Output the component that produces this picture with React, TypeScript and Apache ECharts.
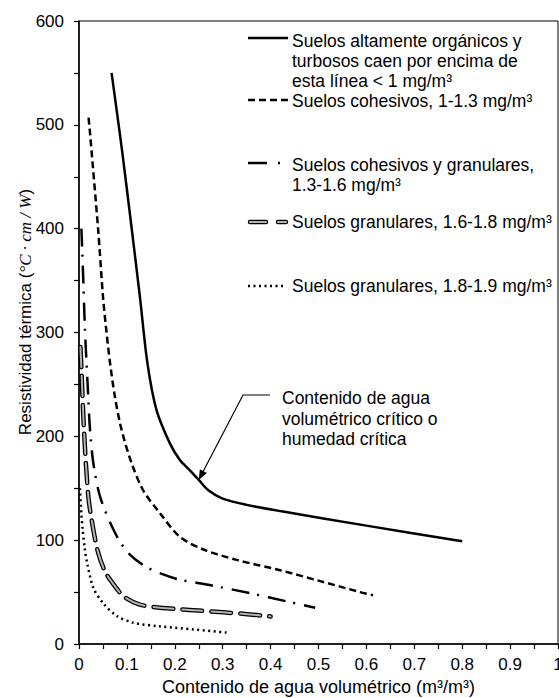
import React, { useEffect, useRef } from 'react';
import * as echarts from 'echarts';

const FONT = '"Liberation Sans", Arial, Helvetica, sans-serif';

// Axes
const xMin = 0;
const xMax = 1;
const xTickStep = 0.05;
const yMin = 0;
const yMax = 600;
const yTickStep = 50;

const xAxisTitle = 'Contenido de agua volumétrico (m³/m³)';
const yAxisTitleMain = 'Resistividad térmica (';
const yAxisTitleUnit = '°C · cm / W';

// Series names
const seriesNames = [
  'Suelos altamente orgánicos y turbosos caen por encima de esta línea < 1 mg/m³',
  'Suelos cohesivos, 1-1.3 mg/m³',
  'Suelos cohesivos y granulares, 1.3-1.6 mg/m³',
  'Suelos granulares, 1.6-1.8 mg/m³',
  'Suelos granulares, 1.8-1.9 mg/m³',
];

// Legend label lines
const legendLabels = [
  ['Suelos altamente orgánicos y', 'turbosos caen por encima de', 'esta línea < 1 mg/m³'],
  ['Suelos cohesivos, 1-1.3 mg/m³'],
  ['Suelos cohesivos y granulares,', '1.3-1.6 mg/m³'],
  ['Suelos granulares, 1.6-1.8 mg/m³'],
  ['Suelos granulares, 1.8-1.9 mg/m³'],
];

// Data (water content m3/m3, thermal resistivity)
const organicX = [0.068, 0.09, 0.11, 0.127, 0.143, 0.162, 0.19, 0.211, 0.23, 0.25, 0.27, 0.3, 0.35, 0.42, 0.6, 0.8];
const organicY = [550, 475, 400, 335, 270, 225, 193, 177, 168, 158, 148, 140, 134, 128, 114, 99];

const cohesiveX = [0.02, 0.023, 0.04, 0.05, 0.057, 0.065, 0.075, 0.089, 0.11, 0.134, 0.169, 0.211, 0.26, 0.329, 0.42, 0.5, 0.587, 0.614];
const cohesiveY = [507, 492, 399, 335, 302, 270, 238, 206, 174, 148, 126, 103, 91, 81, 71, 61, 50, 47];

const mixedX = [0.005, 0.009, 0.0125, 0.018, 0.023, 0.03, 0.044, 0.072, 0.1, 0.134, 0.17, 0.21, 0.27, 0.357, 0.434, 0.493];
const mixedY = [400, 350, 302, 250, 206, 174, 142, 110, 89, 76, 68, 62, 57, 49, 41, 35];

const granular1X = [0.003, 0.005, 0.0104, 0.0195, 0.03, 0.04, 0.054, 0.068, 0.093, 0.127, 0.169, 0.239, 0.301, 0.357, 0.4];
const granular1Y = [286, 265, 206, 142, 110, 88, 70, 60, 46, 38, 35, 32.5, 30.5, 28.5, 26.5];

const granular2X = [0.002, 0.005, 0.0077, 0.012, 0.017, 0.03, 0.051, 0.079, 0.113, 0.169, 0.239, 0.308];
const granular2Y = [150, 125, 110, 92, 78, 54, 39, 27, 20.5, 17, 14, 11];

// Annotation
const criticalPoint = [0.25, 158];
const annotationLines = ['Contenido de agua', 'volumétrico crítico o', 'humedad crítica'];

const zip = (xs: number[], ys: number[]) => xs.map((x, i) => [x, ys[i]]);

export default function App() {
  const ref = useRef<HTMLDivElement>(null);

  useEffect(() => {
    const chart = echarts.init(ref.current!, null, { renderer: 'svg' });

    const baseLine = (name: string, data: number[][], lineStyle: any, z = 2) => ({
      name,
      type: 'line',
      data,
      symbol: 'none',
      showSymbol: false,
      smooth: 0.3,
      silent: true,
      z,
      lineStyle,
    });

    const axisCommon = {
      axisLine: { show: true, onZero: false, lineStyle: { color: '#000', width: 1.5 } },
      axisTick: { show: true, length: 5, lineStyle: { color: '#000', width: 1.2 } },
      splitLine: { show: false },
    };

    chart.setOption({
      animation: false,
      grid: {
        left: 79,
        right: 1,
        top: 21,
        bottom: 54,
        show: true,
        borderColor: '#000',
        borderWidth: 1,
        outerBoundsMode: 'none',
      },
      xAxis: {
        type: 'value',
        min: xMin,
        max: xMax,
        interval: xTickStep,
        ...axisCommon,
        axisLabel: {
          color: '#000',
          fontSize: 17,
          fontFamily: FONT,
          margin: 12,
          formatter: (v: number) => {
            const r = Math.round(v / xTickStep);
            return r % 2 === 0 ? String(Math.round(v * 10) / 10) : '';
          },
        },
        name: xAxisTitle,
        nameLocation: 'middle',
        nameGap: 34,
        nameTextStyle: { color: '#000', fontSize: 18, fontFamily: FONT },
      },
      yAxis: {
        type: 'value',
        min: yMin,
        max: yMax,
        interval: yTickStep,
        ...axisCommon,
        axisLabel: {
          color: '#000',
          fontSize: 17,
          fontFamily: FONT,
          margin: 15,
          formatter: (v: number) => (Math.round(v) % 100 === 0 ? String(Math.round(v)) : ''),
        },
      },
      series: [
        baseLine(seriesNames[0], zip(organicX, organicY), { color: '#000', width: 2.5 }),
        baseLine(seriesNames[1], zip(cohesiveX, cohesiveY), { color: '#000', width: 2.5, type: [7, 4] }),
        baseLine(seriesNames[2], zip(mixedX, mixedY), { color: '#000', width: 2.5, type: [18, 8, 2, 9] }),
        baseLine(seriesNames[3], zip(granular1X, granular1Y), { color: '#000', width: 4.5, type: [20, 9], cap: 'round' }),
        baseLine(seriesNames[3] + ' ', zip(granular1X, granular1Y), { color: '#b4b4b4', width: 2, type: [20, 9], cap: 'round' }, 3),
        baseLine(seriesNames[4], zip(granular2X, granular2Y), { color: '#000', width: 2.5, type: [2, 3.5] }),
      ],
    });

    const textStyle = (text: string, lh: number) => ({
      text,
      fill: '#000',
      fontSize: 17.5,
      fontFamily: FONT,
      lineHeight: lh,
      align: 'left',
      verticalAlign: 'top',
    });

    const sampleX1 = 248;
    const sampleX2 = 288;
    const textX = 292;
    const legendRows = [
      { lineY: 38, textTop: 31, lh: 20, style: { stroke: '#000', lineWidth: 2.5 } },
      { lineY: 100, textTop: 91.5, lh: 18, style: { stroke: '#000', lineWidth: 2.5, lineDash: [7, 4] } },
      { lineY: 163, textTop: 155, lh: 20, style: { stroke: '#000', lineWidth: 2.5, lineDash: [19, 11, 2, 100] } },
      { lineY: 222, textTop: 212, lh: 20, style: null },
      { lineY: 286, textTop: 276, lh: 20, style: { stroke: '#000', lineWidth: 2.5, lineDash: [2, 3.5] } },
    ];

    const graphics: any[] = [];
    legendRows.forEach((row, i) => {
      const x2 = i === 4 ? 283 : i === 2 ? 282 : sampleX2;
      if (row.style) {
        graphics.push({
          type: 'line',
          silent: true,
          shape: { x1: sampleX1, y1: row.lineY, x2, y2: row.lineY },
          style: row.style,
        });
      } else {
        graphics.push({
          type: 'line',
          silent: true,
          shape: { x1: sampleX1 + 2, y1: row.lineY, x2: x2 - 2, y2: row.lineY },
          style: { stroke: '#000', lineWidth: 4.5, lineDash: [16, 12], lineCap: 'round' },
        });
        graphics.push({
          type: 'line',
          silent: true,
          shape: { x1: sampleX1 + 2, y1: row.lineY, x2: x2 - 2, y2: row.lineY },
          style: { stroke: '#b4b4b4', lineWidth: 2, lineDash: [16, 12], lineCap: 'round' },
        });
      }
      graphics.push({
        type: 'text',
        silent: true,
        x: textX,
        y: row.textTop,
        style: textStyle(legendLabels[i].join('\n'), row.lh),
      });
    });

    // Y-axis title
    graphics.push({
      type: 'text',
      silent: true,
      x: 25,
      y: 312,
      rotation: Math.PI / 2,
      style: {
        text: `${yAxisTitleMain}{i|${yAxisTitleUnit}})`,
        fill: '#000',
        fontSize: 17,
        fontFamily: FONT,
        align: 'center',
        verticalAlign: 'middle',
        rich: {
          i: { fontStyle: 'italic', fontFamily: '"Liberation Serif", serif', fontSize: 17, fill: '#000' },
        },
      },
    });

    // Annotation
    const tip = chart.convertToPixel({ gridIndex: 0 }, criticalPoint) as number[];
    const elbow = [243, 395];
    const lineEnd = [270, 395];
    const dx = tip[0] - elbow[0];
    const dy = tip[1] - elbow[1];
    const len = Math.sqrt(dx * dx + dy * dy);
    const ux = dx / len;
    const uy = dy / len;
    const headLen = 10;
    const headHalf = 4;
    const base = [tip[0] - ux * headLen, tip[1] - uy * headLen];
    graphics.push({
      type: 'polyline',
      silent: true,
      shape: { points: [lineEnd, elbow, base] },
      style: { stroke: '#000', lineWidth: 1.2, fill: null },
    });
    graphics.push({
      type: 'polygon',
      silent: true,
      shape: {
        points: [
          tip,
          [base[0] - uy * headHalf, base[1] + ux * headHalf],
          [base[0] + uy * headHalf, base[1] - ux * headHalf],
        ],
      },
      style: { fill: '#000' },
    });
    graphics.push({
      type: 'text',
      silent: true,
      x: 282,
      y: 388,
      style: textStyle(annotationLines.join('\n'), 20.5),
    });

    chart.setOption({ graphic: graphics });

    return () => chart.dispose();
  }, []);

  return (
    <div
      ref={ref}
      style={{ position: 'fixed', left: 0, top: 0, width: 559, height: 698, background: '#fff' }}
    />
  );
}
